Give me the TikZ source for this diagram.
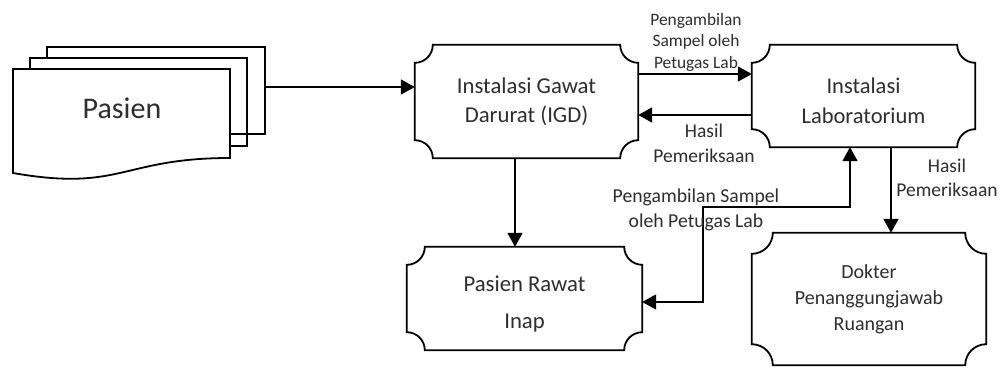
\documentclass[tikz,border=0pt]{standalone}
\usepackage{fontspec}
\setmainfont{Carlito}
\usetikzlibrary{arrows.meta,calc}

% plaque: rectangle with concave (scalloped) corners round a named node
\newcommand\plaque[2][18pt]{%
  \draw[plq] ($(#2.north west)+(0,-#1)$) arc[start angle=270,end angle=360,radius=#1]
    -- ($(#2.north east)+(-#1,0)$) arc[start angle=180,end angle=270,radius=#1]
    -- ($(#2.south east)+(0,#1)$) arc[start angle=90,end angle=180,radius=#1]
    -- ($(#2.south west)+(#1,0)$) arc[start angle=0,end angle=90,radius=#1]
    -- cycle;}

\begin{document}
\begin{tikzpicture}[x=1pt,y=1pt,line cap=butt,line join=miter,
    plq/.style={line width=1.8pt},
    box/.style={inner sep=0pt,align=center,text=black!82},
    lbl/.style={inner sep=0pt,align=center,text=black!82},
    arr/.style={line width=1.8pt,-{Triangle[length=14pt,width=15pt]}},
    arr2/.style={line width=1.8pt,{Triangle[length=14pt,width=15pt]}-{Triangle[length=14pt,width=15pt]}}]
  \useasboundingbox[fill=white] (0,0) rectangle (1007,-367);

  % tumpukan dokumen Pasien
  \draw[plq] (47,-58) -- (47,-47) -- (265,-47) -- (265,-134) -- (230,-134);
  \draw[plq] (30,-69) -- (30,-58) -- (247,-58) -- (247,-146) -- (230,-146);
  \draw[plq] (13,-173) -- (13,-69) -- (230,-69) -- (230,-158)
    .. controls (121.5,-158) and (121.5,-192) .. cycle;
  \node[box,font=\fontsize{30}{36}\selectfont] (pasien) at (122,-108) {Pasien};
  \coordinate (docout) at (265,-87);

  % kotak-kotak
  \node[box,minimum width=223pt,minimum height=113pt,
    font=\fontsize{22.7}{29}\selectfont] (igd) at (526.5,-101.5)
    {Instalasi Gawat\\Darurat (IGD)};
  \node[box,minimum width=223pt,minimum height=102pt,text height=55pt,
    font=\fontsize{22.5}{30}\selectfont] (lab) at (863.5,-96)
    {Instalasi\\Laboratorium};
  \node[box,minimum width=235pt,minimum height=103pt,text height=64pt,
    font=\fontsize{22.7}{37}\selectfont] (inap) at (524.5,-298.5)
    {Pasien Rawat\\Inap};
  \node[box,minimum width=234pt,minimum height=132pt,
    font=\fontsize{20}{26}\selectfont] (dokter) at (869,-299)
    {Dokter\\Penanggungjawab\\Ruangan};
  \plaque{igd}
  \plaque{lab}
  \plaque{inap}
  \plaque[21pt]{dokter}

  % panah
  \draw[arr] (docout) -- (docout -| igd.west);
  \draw[arr] ([yshift=27.5]igd.east) -- ([yshift=27.5]igd.east -| lab.west);
  \draw[arr] ([yshift=-13.5]igd.east -| lab.west) -- ([yshift=-13.5]igd.east);
  \draw[arr] ([xshift=-11.5]igd.south) -- ([xshift=-11.5]igd.south |- inap.north);
  \coordinate (bend) at (703,-207);
  \draw[arr2] ([xshift=-13.5]lab.south) |- (bend) |- ([yshift=-3.5]inap.east);
  \draw[arr] ([xshift=27.5]lab.south) -- ([xshift=27.5]lab.south |- dokter.north);

  % keterangan
  \node[lbl,font=\fontsize{17.4}{21.5}\selectfont] (ambil1) at (696,-42)
    {Pengambilan\\Sampel oleh\\Petugas Lab};
  \node[lbl,font=\fontsize{19.5}{25}\selectfont] (hasil1) at (704,-143)
    {Hasil\\Pemeriksaan};
  \node[lbl,font=\fontsize{19.7}{25}\selectfont] (ambil2) at (696,-210)
    {Pengambilan Sampel\\oleh Petugas Lab};
  \node[lbl,font=\fontsize{19.5}{24}\selectfont] (hasil2) at (947,-178)
    {Hasil\\Pemeriksaan};
\end{tikzpicture}
\end{document}
